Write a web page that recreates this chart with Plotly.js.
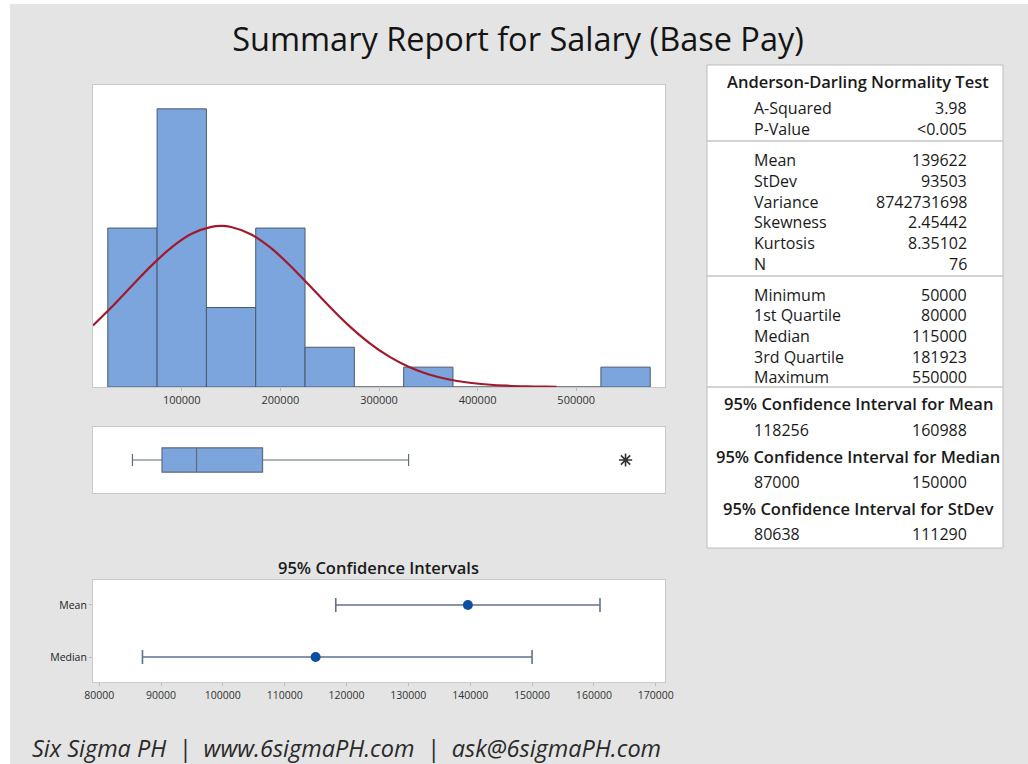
<!DOCTYPE html>
<html>
<head>
<meta charset="utf-8">
<script src="https://cdn.plot.ly/plotly-3.0.1.min.js"></script>
<style>html,body{margin:0;padding:0;background:#fff;}#chart{width:1028px;height:764px;}</style>
</head>
<body>
<div id="chart"></div>
<script>
// ---------- DATA ----------
var binCenters = [50000, 100000, 150000, 200000, 250000, 300000, 350000, 400000, 450000, 500000, 550000];
var binCounts  = [16, 28, 8, 16, 4, 0, 2, 0, 0, 0, 2];
var binWidth = 50000;

// fitted normal curve (x, frequency)
var curveX = [10000, 30000, 50000, 70000, 90000, 110000, 130000, 140000, 150000, 170000, 190000, 210000, 230000, 250000, 270000, 290000, 310000, 330000, 350000, 370000, 390000, 410000, 430000, 450000, 470000, 480000];
var curveY = [6.2, 8.15, 10.24, 12.29, 14.08, 15.42, 16.12, 16.21, 16.11, 15.38, 14.02, 12.21, 10.16, 8.08, 6.13, 4.45, 3.08, 2.04, 1.29, 0.78, 0.45, 0.25, 0.13, 0.066, 0.031, 0.02];

var histTicks = [100000, 200000, 300000, 400000, 500000];

// boxplot
var boxStats = {q1: 80000, median: 115000, q3: 181923, lower: 50000, upper: 330000};
var outliers = [550000];

// confidence intervals
var ciCats   = ['Mean', 'Median'];
var ciCenter = [139622, 115000];
var ciLow    = [118256, 87000];
var ciHigh   = [160988, 150000];
var ciTicks  = [80000, 90000, 100000, 110000, 120000, 130000, 140000, 150000, 160000, 170000];

// statistics table
var adTitle  = 'Anderson-Darling Normality Test';
var adLabels = ['A-Squared', 'P-Value'];
var adValues = ['3.98', '<0.005'];
var descLabels = ['Mean', 'StDev', 'Variance', 'Skewness', 'Kurtosis', 'N'];
var descValues = ['139622', '93503', '8742731698', '2.45442', '8.35102', '76'];
var quantLabels = ['Minimum', '1st Quartile', 'Median', '3rd Quartile', 'Maximum'];
var quantValues = ['50000', '80000', '115000', '181923', '550000'];
var ciTitles = ['95% Confidence Interval for Mean', '95% Confidence Interval for Median', '95% Confidence Interval for StDev'];
var ciTabLow  = ['118256', '87000', '80638'];
var ciTabHigh = ['160988', '150000', '111290'];

var chartTitle = 'Summary Report for Salary (Base Pay)';
var ciPanelTitle = '95% Confidence Intervals';
var footerText = 'Six Sigma PH  |  www.6sigmaPH.com  |  ask@6sigmaPH.com';

// ---------- LAYOUT HELPERS ----------
var W = 1028, H = 764;
function px(x) { return x / W; }
function py(y) { return 1 - y / H; }
var FONT = 'Open Sans, Noto Sans, sans-serif';
var BLUE = '#7ba5dc';
var FRAME = '#c9c9c9';

var traces = [];
traces.push({
  type: 'bar', x: binCenters, y: binCounts, width: binWidth,
  marker: {color: BLUE, line: {color: '#4a5a70', width: 1}},
  xaxis: 'x', yaxis: 'y', hoverinfo: 'x+y'
});
traces.push({
  type: 'scatter', mode: 'lines', x: curveX, y: curveY,
  line: {color: '#a01a2c', width: 2.2, shape: 'spline'},
  xaxis: 'x', yaxis: 'y'
});
traces.push({
  type: 'box', orientation: 'h', y: [0],
  q1: [boxStats.q1], median: [boxStats.median], q3: [boxStats.q3],
  lowerfence: [boxStats.lower], upperfence: [boxStats.upper],
  width: 0.74, fillcolor: BLUE, line: {color: '#5f6b7c', width: 1.2},
  boxpoints: false, xaxis: 'x2', yaxis: 'y2'
});
traces.push({
  type: 'scatter', mode: 'markers', x: outliers, y: outliers.map(function(){return 0;}),
  marker: {symbol: 'asterisk-open', size: 11, color: '#333333', line: {color: '#333333', width: 1.6}},
  xaxis: 'x2', yaxis: 'y2'
});
var ciY = ciCats.map(function(c, i){ return ciCats.length - 1 - i; });
traces.push({
  type: 'scatter', mode: 'markers', x: ciCenter, y: ciY,
  error_x: {type: 'data', symmetric: false,
    array: ciHigh.map(function(v, i){ return v - ciCenter[i]; }),
    arrayminus: ciLow.map(function(v, i){ return ciCenter[i] - v; }),
    color: '#60738e', thickness: 1.6, width: 7},
  marker: {color: '#0d4ea3', size: 10},
  xaxis: 'x3', yaxis: 'y3'
});

var shapes = [];
var annotations = [];
// white page edge (top / left)
shapes.push({type: 'rect', xref: 'paper', yref: 'paper', x0: 0, x1: 1, y0: py(4), y1: 1, fillcolor: '#ffffff', line: {width: 0}, layer: 'below'});
shapes.push({type: 'rect', xref: 'paper', yref: 'paper', x0: 0, x1: px(10), y0: 0, y1: 1, fillcolor: '#ffffff', line: {width: 0}, layer: 'below'});
// table box
var tL = 707, tR = 1003, tT = 65, tB = 548;
shapes.push({type: 'rect', xref: 'paper', yref: 'paper', x0: px(tL), x1: px(tR), y0: py(tB), y1: py(tT), fillcolor: '#ffffff', line: {color: '#bdbdbd', width: 1}, layer: 'below'});
[141, 276, 387].forEach(function(y){
  shapes.push({type: 'line', xref: 'paper', yref: 'paper', x0: px(tL), x1: px(tR), y0: py(y), y1: py(y), line: {color: '#c4c4c4', width: 1.5}});
});

var labX = 752, valX = 969, midX = 858;
var tabFont = {family: FONT, size: 16, color: '#1a1a1a'};
function txt(text, x, y, anchor, font) {
  annotations.push({text: text, xref: 'paper', yref: 'paper', x: px(x), y: py(y), xanchor: anchor, yanchor: 'middle', showarrow: false, font: font || tabFont});
}
var headFont = {family: FONT, size: 16.5, color: '#1a1a1a', weight: 600};
txt(adTitle, midX, 82, 'center', headFont);
adLabels.forEach(function(l, i){ txt(l, labX, 108 + i * 20.8, 'left'); txt(adValues[i], valX, 108 + i * 20.8, 'right'); });
descLabels.forEach(function(l, i){ txt(l, labX, 160 + i * 20.8, 'left'); txt(descValues[i], valX, 160 + i * 20.8, 'right'); });
quantLabels.forEach(function(l, i){ txt(l, labX, 294.5 + i * 20.7, 'left'); txt(quantValues[i], valX, 294.5 + i * 20.7, 'right'); });
ciTitles.forEach(function(t, i){
  var y0 = 404 + i * 52;
  txt(t, midX, y0, 'center', headFont);
  txt(ciTabLow[i], labX, y0 + 26, 'left');
  txt(ciTabHigh[i], valX, y0 + 26, 'right');
});
// CI panel title
txt(ciPanelTitle, 378, 567, 'center', {family: FONT, size: 16.5, color: '#1a1a1a', weight: 600});
// footer
txt(footerText, 30, 748, 'left', {family: FONT, size: 23.5, color: '#2a2a2a', style: 'italic'});

var dom = [px(93), px(665)];
var axBase = {showline: true, mirror: true, linecolor: FRAME, linewidth: 1, showgrid: false, zeroline: false, fixedrange: true};
var tickFont = {family: FONT, size: 11, color: '#333'};

var layout = {
  width: W, height: H,
  margin: {l: 0, r: 0, t: 0, b: 0},
  paper_bgcolor: '#e4e4e4', plot_bgcolor: '#ffffff',
  showlegend: false,
  title: {text: chartTitle, x: px(518), xanchor: 'center', y: py(40), yanchor: 'middle', yref: 'container', xref: 'container',
          font: {family: FONT, size: 32.5, color: '#141414', weight: 500}},
  xaxis: Object.assign({}, axBase, {domain: dom, range: [10000, 590000], tickvals: histTicks, ticktext: histTicks.map(String),
          ticks: 'outside', ticklen: 3, tickcolor: '#bbb', tickfont: tickFont, anchor: 'y'}),
  yaxis: Object.assign({}, axBase, {domain: [py(387), py(85)], range: [0, 30.4], showticklabels: false, ticks: '', anchor: 'x'}),
  xaxis2: Object.assign({}, axBase, {domain: dom, range: [10000, 590000], showticklabels: false, ticks: '', anchor: 'y2'}),
  yaxis2: Object.assign({}, axBase, {domain: [py(493), py(427)], range: [-1, 1], showticklabels: false, ticks: '', anchor: 'x2'}),
  xaxis3: Object.assign({}, axBase, {domain: dom, range: [79000, 171500], tickvals: ciTicks, ticktext: ciTicks.map(String),
          ticks: 'outside', ticklen: 3, tickcolor: '#bbb', tickfont: {family: FONT, size: 10.5, color: '#333'}, anchor: 'y3'}),
  yaxis3: Object.assign({}, axBase, {domain: [py(682), py(580)], range: [-0.48, 1.48], tickvals: ciY, ticktext: ciCats,
          ticks: 'outside', ticklen: 3, tickcolor: '#bbb', tickfont: {family: FONT, size: 10.5, color: '#222'}, anchor: 'x3'}),
  shapes: shapes,
  annotations: annotations
};

Plotly.newPlot('chart', traces, layout, {staticPlot: true, displayModeBar: false});
</script>
</body>
</html>
